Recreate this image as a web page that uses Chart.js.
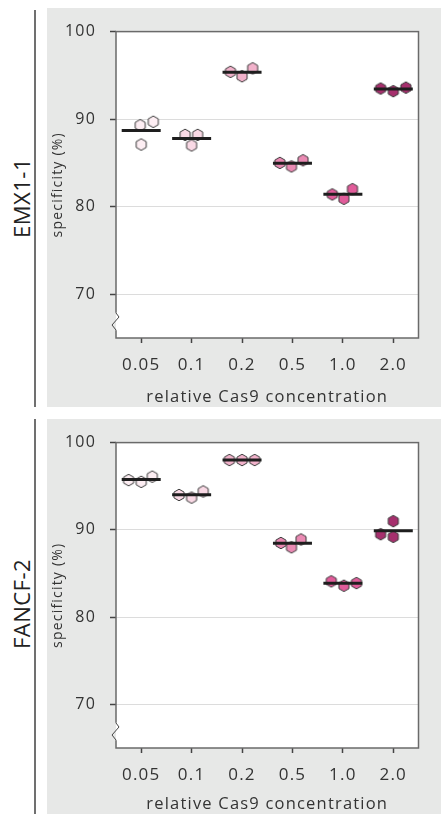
<!DOCTYPE html>
<html>
<head>
<meta charset="utf-8">
<script src="https://cdn.jsdelivr.net/npm/chart.js@4.4.1/dist/chart.umd.min.js"></script>
<style>
  body { margin: 0; background: #fff; width: 441px; height: 814px; position: relative; overflow: hidden; font-family: "Open Sans", sans-serif; }
  .grey { position: absolute; left: 47px; width: 394px; background: #e7e8e7; }
  .rule { position: absolute; left: 34px; width: 2px; background: #707070; }
  .gene { position: absolute; left: 21px; font-size: 22px; letter-spacing: 0.5px; color: #222; white-space: nowrap;
          transform: translate(-50%, -50%) rotate(-90deg); }
</style>
</head>
<body>
<div class="rule" style="top:10px;height:397px"></div>
<div class="gene" style="top:198px">EMX1-1</div>
<div class="grey" style="top:8px;height:399px"><canvas id="emx" width="394" height="399"></canvas></div>

<div class="rule" style="top:419px;height:395px"></div>
<div class="gene" style="top:604px">FANCF-2</div>
<div class="grey" style="top:419px;height:395px"><canvas id="fancf" width="394" height="395"></canvas></div>

<script>
const concentrations = ["0.05", "0.1", "0.2", "0.5", "1.0", "2.0"];
const tickValues = [70, 80, 90, 100];

// EMX1-1 specificity, three replicates
const emxRep1 = [89.3, 88.2, 95.4, 85.0, 81.4, 93.5];
const emxRep2 = [87.1, 87.0, 94.9, 84.6, 80.9, 93.2];
const emxRep3 = [89.7, 88.2, 95.8, 85.3, 82.0, 93.6];

// FANCF-2 specificity, three replicates
const fancfRep1 = [95.7, 94.0, 98.0, 88.5, 84.1, 89.5];
const fancfRep2 = [95.5, 93.7, 98.0, 88.0, 83.6, 91.0];
const fancfRep3 = [96.1, 94.4, 98.0, 88.9, 83.9, 89.2];

// sideways shift of each replicate so the dots don't overlap (category widths)
const emxJitter1 = [-0.02, -0.13, -0.23, -0.25, -0.21, -0.25];
const emxJitter2 = [0, 0, 0, -0.02, 0.02, 0];
const emxJitter3 = [0.24, 0.12, 0.21, 0.21, 0.19, 0.25];
const fancfJitter1 = [-0.25, -0.25, -0.25, -0.23, -0.23, -0.25];
const fancfJitter2 = [0, 0, 0, -0.02, 0.02, 0];
const fancfJitter3 = [0.22, 0.23, 0.25, 0.17, 0.27, 0];

const dotColors = ["#fdeef3", "#f9d9e5", "#f2b2cb", "#ea8ab3", "#e15c9a", "#a62f6d"];

// hexagon marker drawn once per colour, used as pointStyle
function hexagon(color) {
  const c = document.createElement("canvas");
  c.width = 14;
  c.height = 14;
  const ctx = c.getContext("2d");
  ctx.beginPath();
  for (let i = 0; i < 6; i++) {
    const a = (Math.PI / 3) * i - Math.PI / 2;
    const px = 7 + 5.8 * Math.cos(a);
    const py = 7 + 5.8 * Math.sin(a);
    if (i == 0) ctx.moveTo(px, py);
    else ctx.lineTo(px, py);
  }
  ctx.closePath();
  ctx.fillStyle = color;
  ctx.fill();
  ctx.strokeStyle = "#3a3a3a";
  ctx.lineWidth = 1;
  ctx.stroke();
  return c;
}
const hexes = dotColors.map(hexagon);

// white plot area, grey frame and the broken y axis
const frame = {
  id: "frame",
  beforeDraw(chart) {
    const { ctx, chartArea: a } = chart;
    ctx.save();
    ctx.fillStyle = "#fff";
    ctx.fillRect(a.left, a.top, a.width, a.height);
    ctx.restore();
    // the labels in the original are a bit spaced out
    ctx.letterSpacing = "1.2px";
  },
  afterDraw(chart) {
    const { ctx, chartArea: a } = chart;
    ctx.letterSpacing = "0px";
    ctx.save();
    ctx.strokeStyle = "#6a6a6a";
    ctx.lineWidth = 1.5;
    ctx.strokeRect(a.left, a.top, a.width, a.height);
    // axis break
    const x = a.left;
    const b = a.bottom;
    ctx.fillStyle = "#e7e8e7";
    ctx.fillRect(x - 5, b - 26, 5, 19);
    ctx.fillStyle = "#fff";
    ctx.fillRect(x, b - 26, 4, 19);
    ctx.beginPath();
    ctx.moveTo(x, b - 26);
    ctx.lineTo(x, b - 25);
    ctx.lineTo(x + 3, b - 21);
    ctx.lineTo(x - 4, b - 13);
    ctx.lineTo(x, b - 8);
    ctx.lineTo(x, b - 7);
    ctx.lineWidth = 1;
    ctx.strokeStyle = "#444";
    ctx.stroke();
    ctx.restore();
  },
};

function makeChart(id, reps, jitters, axisHeight) {
  const means = concentrations.map((c, i) => (reps[0][i] + reps[1][i] + reps[2][i]) / 3);
  // first dataset is drawn last, so the mean bars sit on top of the dots
  const datasets = [
    {
      data: means.map((m, i) => ({ x: i, y: m })),
      pointStyle: "line",
      pointRadius: 19.5,
      pointBorderWidth: 3,
      pointBorderColor: "#1e1e1e",
    },
  ];
  reps.forEach((rep, r) => {
    datasets.push({
      data: rep.map((v, i) => ({ x: i + jitters[r][i], y: v })),
      pointStyle: hexes,
      pointRadius: 6,
    });
  });

  new Chart(document.getElementById(id), {
    type: "scatter",
    data: { datasets: datasets },
    plugins: [frame],
    options: {
      responsive: false,
      animation: false,
      events: [],
      layout: { padding: { top: 13, right: 8, left: 0, bottom: 0 } },
      plugins: { legend: { display: false }, tooltip: { enabled: false } },
      scales: {
        x: {
          type: "linear",
          min: -0.5,
          max: 5.5,
          afterBuildTicks: (scale) => {
            scale.ticks = concentrations.map((c, i) => ({ value: i }));
          },
          afterFit: (scale) => {
            scale.height = axisHeight;
          },
          border: { display: false },
          grid: { drawOnChartArea: false, tickLength: 5, tickColor: "#444", tickWidth: 1.5 },
          ticks: {
            padding: 12,
            color: "#333",
            font: { family: "Open Sans", size: 17 },
            callback: (v) => concentrations[v],
          },
          title: {
            display: true,
            text: "relative Cas9 concentration",
            color: "#333",
            font: { family: "Open Sans", size: 16.5 },
            padding: { top: 0, bottom: 0 },
          },
        },
        y: {
          min: 65,
          max: 100,
          afterBuildTicks: (scale) => {
            scale.ticks = tickValues.map((v) => ({ value: v }));
          },
          afterFit: (scale) => {
            scale.width = 69;
          },
          border: { display: false },
          grid: { color: "#dcdcdc", lineWidth: 1, tickLength: 6, tickColor: "#444", tickWidth: 1.5 },
          ticks: { padding: 14, color: "#333", font: { family: "Open Sans", size: 16 } },
          title: {
            display: true,
            text: "specificity (%)",
            color: "#333",
            font: { family: "Open Sans", size: 14 },
            padding: { top: 3, bottom: 0 },
          },
        },
      },
    },
  });
}

makeChart("emx", [emxRep1, emxRep2, emxRep3], [emxJitter1, emxJitter2, emxJitter3], 69);
makeChart("fancf", [fancfRep1, fancfRep2, fancfRep3], [fancfJitter1, fancfJitter2, fancfJitter3], 66);
</script>
</body>
</html>
